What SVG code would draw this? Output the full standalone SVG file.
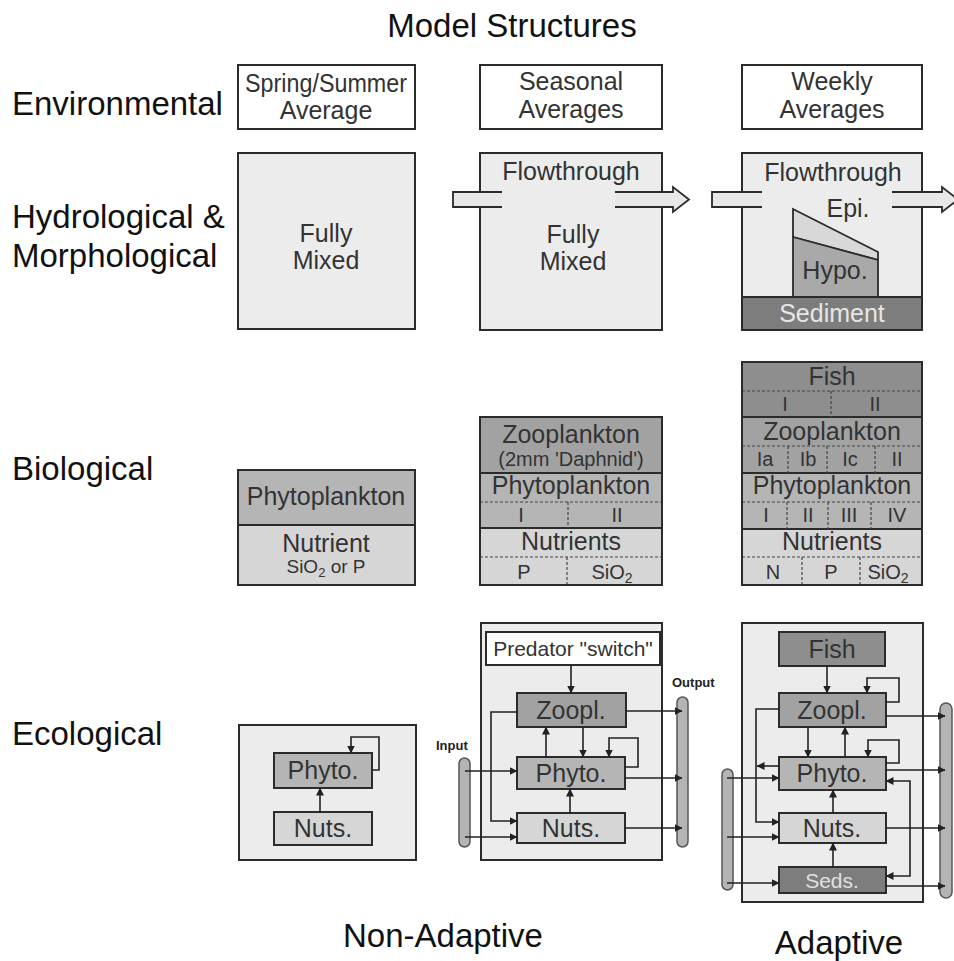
<svg xmlns="http://www.w3.org/2000/svg" width="954" height="961" viewBox="0 0 954 961">
<style>
text{font-family:"Liberation Sans",Arial,Helvetica,sans-serif;fill:#333}
.big{font-size:33px;fill:#111}
.t25{font-size:25px;text-anchor:middle}
.t21{font-size:21px;text-anchor:middle}
.t20{font-size:20px;text-anchor:middle}
.t19{font-size:19px;text-anchor:middle}
.box{stroke:#2b2b2b;stroke-width:2}
.nofill{fill:none}
.white{fill:#fff}
.lt{fill:#ececec}
.nut{fill:#d6d6d6}
.phy{fill:#b5b5b5}
.zoo{fill:#a2a2a2}
.fish{fill:#8e8e8e}
.sed{fill:#7d7d7d}
.light{fill:#e6e6e6}
.dash{stroke:#444;stroke-width:1.2;stroke-dasharray:3 2;fill:none}
.sep{stroke:#2b2b2b;stroke-width:2}
.bar{fill:#b4b4b4;stroke:#555;stroke-width:1.5}
.pipe{fill:#e8e8e8;stroke:#2b2b2b;stroke-width:1.8}
.lbl{font-size:13px;font-weight:bold;fill:#222}
#connectors path{fill:none;stroke:#222;stroke-width:1.6;marker-end:url(#ah)}
</style>
<defs>
<marker id="ah" markerWidth="8" markerHeight="8" refX="7.5" refY="4" orient="auto-start-reverse" markerUnits="userSpaceOnUse"><path d="M0,0 L8,4 L0,8 z" fill="#222"/></marker>
</defs>

<rect width="954" height="961" fill="#fff"/>

<g id="labels">
<text class="big" x="512" y="37" text-anchor="middle">Model Structures</text>
<text class="big" x="12" y="115">Environmental</text>
<text class="big" x="12" y="228">Hydrological &amp;</text>
<text class="big" x="12" y="267">Morphological</text>
<text class="big" x="12" y="480">Biological</text>
<text class="big" x="12" y="745">Ecological</text>
<text class="big" x="443" y="947" text-anchor="middle">Non-Adaptive</text>
<text class="big" x="839" y="954" text-anchor="middle">Adaptive</text>
</g>

<!-- Environmental -->
<g id="env1">
<rect class="box white" x="238" y="65" width="177" height="64"/>
<text class="t25" x="326" y="92" font-size="24" textLength="162" lengthAdjust="spacingAndGlyphs">Spring/Summer</text>
<text class="t25" x="326" y="119">Average</text>
</g>
<g id="env2">
<rect class="box white" x="480" y="65" width="182" height="64"/>
<text class="t25" x="571" y="90">Seasonal</text>
<text class="t25" x="571" y="118">Averages</text>
</g>
<g id="env3">
<rect class="box white" x="742" y="65" width="180" height="64"/>
<text class="t25" x="832" y="90">Weekly</text>
<text class="t25" x="832" y="118">Averages</text>
</g>

<!-- Hydrological -->
<g id="hydro1">
<rect class="box lt" x="238" y="153" width="177" height="176"/>
<text class="t25" x="326" y="242">Fully</text>
<text class="t25" x="326" y="269">Mixed</text>
</g>
<g id="hydro2">
<rect class="box lt" x="480" y="153" width="182" height="177"/>
<path class="pipe" d="M502,192 H453 V207 H502"/>
<path class="pipe" d="M615,192 H673 V187 L689,199.5 L673,212 V207 H615"/>
<text class="t25" x="571" y="180">Flowthrough</text>
<text class="t25" x="573" y="243">Fully</text>
<text class="t25" x="573" y="270">Mixed</text>
</g>
<g id="hydro3">
<rect class="box lt" x="742" y="153" width="180" height="177"/>
<path class="pipe" d="M762,192 H712 V207 H762"/>
<path class="pipe" d="M892,192 H942 V187 L958,199.5 L942,212 V207 H892"/>
<text class="t25" x="833" y="181">Flowthrough</text>
<polygon points="793,209 878,252 878,260 793,237" fill="#d8d8d8" stroke="#2b2b2b" stroke-width="1.8"/>
<polygon points="793,237 878,260 878,297 793,297" fill="#a9a9a9" stroke="#2b2b2b" stroke-width="1.8"/>
<text class="t25" x="848" y="217">Epi.</text>
<text class="t25" x="835" y="279">Hypo.</text>
<rect class="box sed" x="742" y="297" width="180" height="33" fill="#8a8a8a"/>
<text class="t25" x="832" y="322" style="fill:#e6e6e6">Sediment</text>
</g>

<!-- Biological -->
<g id="bio1">
<rect class="phy" x="238" y="470" width="177" height="55"/>
<rect class="nut" x="238" y="525" width="177" height="60"/>
<line class="sep" x1="238" y1="525" x2="415" y2="525"/>
<rect class="box nofill" x="238" y="470" width="177" height="115"/>
<text class="t25" x="326" y="505">Phytoplankton</text>
<text class="t25" x="326" y="552">Nutrient</text>
<text class="t19" x="326" y="573">SiO<tspan dy="4" font-size="13">2</tspan><tspan dy="-4"> or P</tspan></text>
</g>
<g id="bio2">
<rect class="zoo" x="480" y="417" width="182" height="56"/>
<rect class="phy" x="480" y="473" width="182" height="55"/>
<rect class="nut" x="480" y="528" width="182" height="57"/>
<line class="sep" x1="480" y1="473" x2="662" y2="473"/>
<line class="sep" x1="480" y1="528" x2="662" y2="528"/>
<line class="dash" x1="480" y1="502" x2="662" y2="502"/>
<line class="dash" x1="480" y1="557" x2="662" y2="557"/>
<line class="dash" x1="568" y1="502" x2="568" y2="528"/>
<line class="dash" x1="567" y1="557" x2="567" y2="585"/>
<rect class="box nofill" x="480" y="417" width="182" height="168"/>
<text class="t25" x="571" y="443">Zooplankton</text>
<text class="t20" x="571" y="466">(2mm 'Daphnid')</text>
<text class="t25" x="571" y="494">Phytoplankton</text>
<text class="t20" x="521" y="522">I</text>
<text class="t20" x="617" y="522">II</text>
<text class="t25" x="571" y="550">Nutrients</text>
<text class="t20" x="524" y="579">P</text>
<text class="t20" x="612" y="579">SiO<tspan dy="4" font-size="14">2</tspan></text>
</g>
<g id="bio3">
<rect class="fish" x="742" y="362" width="180" height="55"/>
<rect class="zoo" x="742" y="417" width="180" height="56"/>
<rect class="phy" x="742" y="473" width="180" height="56"/>
<rect class="nut" x="742" y="529" width="180" height="56"/>
<line class="sep" x1="742" y1="417" x2="922" y2="417"/>
<line class="sep" x1="742" y1="473" x2="922" y2="473"/>
<line class="sep" x1="742" y1="529" x2="922" y2="529"/>
<line class="dash" x1="742" y1="391" x2="922" y2="391"/>
<line class="dash" x1="742" y1="446" x2="922" y2="446"/>
<line class="dash" x1="742" y1="502" x2="922" y2="502"/>
<line class="dash" x1="742" y1="557" x2="922" y2="557"/>
<line class="dash" x1="831" y1="391" x2="831" y2="417"/>
<line class="dash" x1="788" y1="446" x2="788" y2="473"/>
<line class="dash" x1="827" y1="446" x2="827" y2="473"/>
<line class="dash" x1="875" y1="446" x2="875" y2="473"/>
<line class="dash" x1="787" y1="502" x2="787" y2="529"/>
<line class="dash" x1="828" y1="502" x2="828" y2="529"/>
<line class="dash" x1="871" y1="502" x2="871" y2="529"/>
<line class="dash" x1="802" y1="557" x2="802" y2="585"/>
<line class="dash" x1="860" y1="557" x2="860" y2="585"/>
<rect class="box nofill" x="742" y="362" width="180" height="223"/>
<text class="t25" x="832" y="385">Fish</text>
<text class="t20" x="785" y="411">I</text>
<text class="t20" x="875" y="411">II</text>
<text class="t25" x="832" y="440">Zooplankton</text>
<text class="t20" x="765" y="466">Ia</text>
<text class="t20" x="808" y="466">Ib</text>
<text class="t20" x="850" y="466">Ic</text>
<text class="t20" x="897" y="466">II</text>
<text class="t25" x="832" y="494">Phytoplankton</text>
<text class="t20" x="766" y="522">I</text>
<text class="t20" x="808" y="522">II</text>
<text class="t20" x="849" y="522">III</text>
<text class="t20" x="897" y="522">IV</text>
<text class="t25" x="832" y="550">Nutrients</text>
<text class="t20" x="773" y="579">N</text>
<text class="t20" x="831" y="579">P</text>
<text class="t20" x="888" y="579">SiO<tspan dy="4" font-size="14">2</tspan></text>
</g>

<!-- Ecological -->
<g id="eco1">
<rect class="box lt" x="239" y="725" width="177" height="135"/>
</g>
<g id="eco1-phyto">
<rect class="box phy" x="274" y="753" width="98" height="35"/>
<text class="t25" x="323" y="779">Phyto.</text>
</g>
<g id="eco1-nuts">
<rect class="box nut" x="274" y="812" width="98" height="33"/>
<text class="t25" x="323" y="837">Nuts.</text>
</g>

<g id="eco2">
<rect class="box lt" x="481" y="623" width="181" height="237"/>
</g>
<g id="eco2-predator">
<rect class="box white" x="486" y="632" width="174" height="33"/>
<text class="t21" x="573" y="656">Predator "switch"</text>
</g>
<g id="eco2-zoopl">
<rect class="box zoo" x="517" y="693" width="109" height="34"/>
<text class="t25" x="571" y="719">Zoopl.</text>
</g>
<g id="eco2-phyto">
<rect class="box phy" x="517" y="757" width="108" height="32"/>
<text class="t25" x="571" y="782">Phyto.</text>
</g>
<g id="eco2-nuts">
<rect class="box nut" x="517" y="813" width="108" height="30"/>
<text class="t25" x="571" y="837">Nuts.</text>
</g>
<g id="eco2-input">
<rect class="bar" x="459" y="758" width="11" height="89" rx="5.5"/>
<text class="lbl" x="436" y="750">Input</text>
</g>
<g id="eco2-output">
<rect class="bar" x="677" y="697" width="11" height="150" rx="5.5"/>
<text class="lbl" x="672" y="687">Output</text>
</g>

<g id="eco3">
<rect class="box lt" x="742" y="623" width="181" height="279"/>
</g>
<g id="eco3-fish">
<rect class="box fish" x="779" y="632" width="106" height="34"/>
<text class="t25" x="832" y="658">Fish</text>
</g>
<g id="eco3-zoopl">
<rect class="box zoo" x="779" y="693" width="107" height="34"/>
<text class="t25" x="832" y="719">Zoopl.</text>
</g>
<g id="eco3-phyto">
<rect class="box phy" x="779" y="757" width="107" height="33"/>
<text class="t25" x="832" y="782">Phyto.</text>
</g>
<g id="eco3-nuts">
<rect class="box nut" x="779" y="813" width="107" height="30"/>
<text class="t25" x="832" y="837">Nuts.</text>
</g>
<g id="eco3-seds">
<rect class="box sed" x="779" y="867" width="107" height="26"/>
<text class="t21" x="832" y="888" style="fill:#e0e0e0">Seds.</text>
</g>
<g id="eco3-input">
<rect class="bar" x="722" y="769" width="11" height="121" rx="5.5"/>
</g>
<g id="eco3-output">
<rect class="bar" x="940" y="703" width="12" height="195" rx="6"/>
</g>

<g id="connectors">
<!-- col1 -->
<path d="M320,812 V788"/>
<path d="M372,770 H379 V737 H351 V753"/>
<!-- col2 -->
<path d="M571,665 V693"/>
<path d="M583,727 V757"/>
<path d="M546,757 V727"/>
<path d="M625,767 H638 V738 H609 V757"/>
<path d="M570,813 V789"/>
<path d="M517,712 H491 V821 H517"/>
<path d="M465,771 H517"/>
<path d="M465,837 H517"/>
<path d="M626,711 H682"/>
<path d="M625,778 H682"/>
<path d="M625,828 H682"/>
<!-- col3 -->
<path d="M827,666 V693"/>
<path d="M886,702 H899 V678 H867 V693"/>
<path d="M808,727 V757"/>
<path d="M845,757 V727"/>
<path d="M886,763 H899 V740 H868 V757"/>
<path d="M779,709 H756 V822 H779"/>
<path d="M779,766 H757"/>
<path d="M833,813 V790"/>
<path d="M833,867 V843"/>
<path d="M886,781 H910 V876 H886" style="marker-start:url(#ah)"/>
<path d="M727,778 H779"/>
<path d="M727,837 H779"/>
<path d="M727,883 H779"/>
<path d="M886,716 H945"/>
<path d="M886,770 H945"/>
<path d="M886,828 H945"/>
<path d="M886,886 H945"/>
</g>
</svg>
